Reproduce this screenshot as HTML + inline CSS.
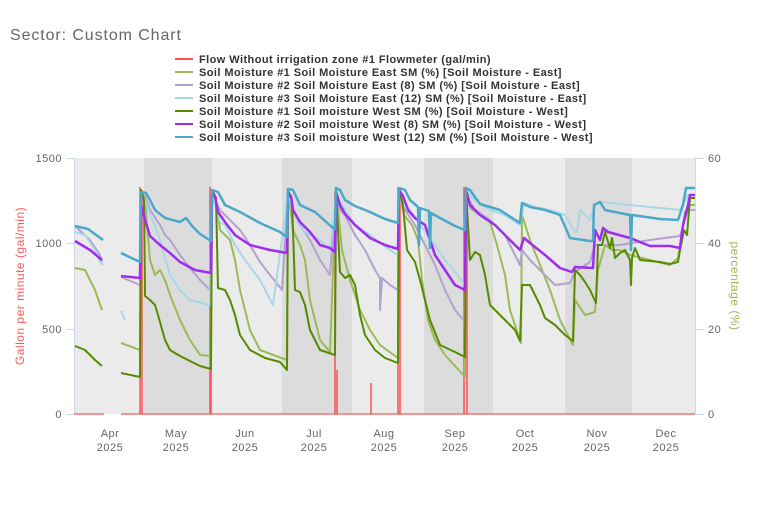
<!DOCTYPE html>
<html><head><meta charset="utf-8"><style>
body{margin:0;background:#fff;width:770px;height:505px;overflow:hidden}
svg{display:block;font-family:"Liberation Sans",sans-serif}
</style></head><body>
<svg width="770" height="505" viewBox="0 0 770 505" xmlns="http://www.w3.org/2000/svg">
<text x="10" y="40" font-size="16" fill="#666" letter-spacing="0.9">Sector:  Custom Chart</text>
<g font-size="11" font-weight="bold" fill="#333" letter-spacing="0.43">
<line x1="175" y1="59" x2="193" y2="59" stroke="#ff5050" stroke-width="2"/><text x="199" y="63">Flow Without irrigation zone #1 Flowmeter (gal/min)</text>
<line x1="175" y1="72" x2="193" y2="72" stroke="#9bbb59" stroke-width="2"/><text x="199" y="76">Soil Moisture #1 Soil Moisture East SM (%) [Soil Moisture - East]</text>
<line x1="175" y1="85" x2="193" y2="85" stroke="#b3a2cc" stroke-width="2"/><text x="199" y="89">Soil Moisture #2 Soil Moisture East (8) SM (%) [Soil Moisture - East]</text>
<line x1="175" y1="98" x2="193" y2="98" stroke="#a8d7e8" stroke-width="2"/><text x="199" y="102">Soil Moisture #3 Soil Moisture East (12) SM (%) [Soil Moisture - East]</text>
<line x1="175" y1="111" x2="193" y2="111" stroke="#578a00" stroke-width="2"/><text x="199" y="115">Soil Moisture #1 Soil moisture West SM (%) [Soil Moisture - West]</text>
<line x1="175" y1="124" x2="193" y2="124" stroke="#a02cf0" stroke-width="2"/><text x="199" y="128">Soil Moisture #2 Soil moisture West (8) SM (%) [Soil Moisture - West]</text>
<line x1="175" y1="137" x2="193" y2="137" stroke="#4aa8c8" stroke-width="2"/><text x="199" y="141">Soil Moisture #3 Soil moisture West (12) SM (%) [Soil Moisture - West]</text>
</g>
<rect x="74" y="158" width="622" height="256" fill="#ebebeb"/>
<g fill="#dcdcdc">
<rect x="144" y="158" width="68" height="256"/><rect x="282" y="158" width="70" height="256"/>
<rect x="424" y="158" width="69" height="256"/><rect x="565" y="158" width="67" height="256"/>
</g>
<g stroke="#ccd6eb" stroke-width="1">
<line x1="74.5" y1="158" x2="74.5" y2="414"/><line x1="695.5" y1="158" x2="695.5" y2="414"/>
<line x1="66" y1="158.5" x2="74" y2="158.5"/><line x1="66" y1="243.5" x2="74" y2="243.5"/><line x1="66" y1="329.5" x2="74" y2="329.5"/><line x1="66" y1="414.5" x2="74" y2="414.5"/>
<line x1="696" y1="158.5" x2="704" y2="158.5"/><line x1="696" y1="243.5" x2="704" y2="243.5"/><line x1="696" y1="329.5" x2="704" y2="329.5"/><line x1="696" y1="414.5" x2="704" y2="414.5"/>
</g>
<g font-size="11" fill="#666" text-anchor="end" letter-spacing="0.5">
<text x="62" y="162">1500</text><text x="62" y="247">1000</text><text x="62" y="333">500</text><text x="62" y="418">0</text>
</g>
<g font-size="11" fill="#666" letter-spacing="0.5">
<text x="708" y="162">60</text><text x="708" y="247">40</text><text x="708" y="333">20</text><text x="708" y="418">0</text>
</g>
<text transform="translate(24,286) rotate(-90)" font-size="12" fill="#ff5a5a" text-anchor="middle" letter-spacing="0.5">Gallon per minute (gal/min)</text>
<text transform="translate(731,286) rotate(90)" font-size="12" fill="#9bbb59" text-anchor="middle" letter-spacing="0.5">percentage (%)</text>
<g font-size="11" fill="#666" text-anchor="middle" letter-spacing="0.5">
<text x="110" y="437">Apr</text><text x="110" y="451">2025</text>
<text x="176" y="437">May</text><text x="176" y="451">2025</text>
<text x="245" y="437">Jun</text><text x="245" y="451">2025</text>
<text x="314" y="437">Jul</text><text x="314" y="451">2025</text>
<text x="384" y="437">Aug</text><text x="384" y="451">2025</text>
<text x="455" y="437">Sep</text><text x="455" y="451">2025</text>
<text x="525" y="437">Oct</text><text x="525" y="451">2025</text>
<text x="597" y="437">Nov</text><text x="597" y="451">2025</text>
<text x="666" y="437">Dec</text><text x="666" y="451">2025</text>
</g>
<g fill="none" stroke-linejoin="round">
<path stroke="#ff7070" stroke-width="1.5" d="M74,414H104M121,414H695"/>
<path stroke="#ff5050" stroke-width="1.5" d="M140,414V187M142,414V190M210,414V187M211,414V195M335,414V192M337,414V370M371,414V383M398,414V187M400,414V195M464,414V187M467,414V195"/>
<polyline stroke="#9bbb59" stroke-width="2" points="75,268 85,270 95,290 102,310"/>
<polyline stroke="#9bbb59" stroke-width="2" points="121,343 140,350 141,190 145,200 150,260 155,275 160,270 165,280 170,295 180,320 190,340 200,355 211,356 212,190 216,200 220,230 230,240 235,260 240,290 250,330 260,350 287,360 288,190 293,230 300,245 305,260 310,300 320,340 330,352 336,190 342,250 350,280 360,310 370,330 380,345 398,358 399,190 404,215 412,225 418,240 422,280 428,320 435,340 445,355 465,377 466,190 470,208 480,215 490,222 497,245 505,275 510,310 520,340 521,343 522,215 530,240 540,265 550,290 560,320 573,345 575,300 585,315 595,312 598,270 605,245 612,250 620,250 630,255 650,260 670,265 678,258 685,212 690,205 695,205"/>
<polyline stroke="#b3a2cc" stroke-width="2" points="75,226 90,240 100,255 102,262"/>
<polyline stroke="#b3a2cc" stroke-width="2" points="121,277 140,285 141,195 145,196 150,210 160,225 165,235 170,240 180,255 190,268 200,280 210,290 212,194 220,210 230,220 240,230 250,245 260,262 270,275 282,290 288,195 293,210 300,225 310,240 320,260 330,275 336,195 340,210 345,215 355,235 365,250 375,270 380,278 380,310 382,278 390,285 398,290 399,200 405,210 415,225 425,245 435,265 445,290 455,310 465,322 466,195 475,210 490,220 505,235 515,255 520,265 522,250 530,260 540,270 555,285 570,283 575,272 590,262 595,245 620,245 650,240 680,236 688,210 695,210"/>
<polyline stroke="#a8d7e8" stroke-width="2" points="75,232 85,235 95,250 100,262 103,265"/>
<polyline stroke="#a8d7e8" stroke-width="2" points="121,311 125,320"/>
<polyline stroke="#a8d7e8" stroke-width="2" points="140,310 141,195 145,200 150,215 155,225 160,240 170,275 180,290 190,300 210,305 212,195 218,215 220,222 225,225 235,245 245,260 260,280 273,305 288,195 295,215 305,232 320,240 330,250 336,195 345,210 355,225 370,235 390,250 398,255 399,195 410,210 420,225 430,238 445,260 455,272 465,285 466,192 475,200 490,210 505,215 520,225 524,203 535,207 550,210 565,215 575,232 577,232 580,210 590,220 595,205 600,202 640,206 680,210 688,195 695,195"/>
<polyline stroke="#578a00" stroke-width="2" points="75,346 85,350 95,360 102,366"/>
<polyline stroke="#578a00" stroke-width="2" points="121,373 140,377 141,190 144,200 145,296 150,300 155,305 158,315 165,340 170,350 180,356 200,366 211,369 212,190 216,198 218,288 225,290 230,300 235,315 240,335 250,350 265,358 280,362 287,370 288,190 292,200 295,290 300,292 305,305 310,330 320,350 335,355 336,190 340,272 345,278 350,275 355,285 360,315 365,335 375,350 385,358 398,363 399,190 403,205 407,250 415,262 420,280 425,300 430,320 440,345 455,352 465,357 466,190 470,260 475,252 480,255 485,275 490,305 495,310 505,320 515,330 520,341 522,285 530,285 535,295 540,305 545,318 555,325 565,335 573,341 575,270 580,275 585,282 590,290 596,303 598,245 602,245 605,232 610,248 612,238 615,258 620,253 625,250 630,260 631,285 632,258 635,248 640,260 660,262 670,264 678,262 680,250 684,230 687,235 690,198 695,198"/>
<polyline stroke="#a02cf0" stroke-width="2.5" points="75,241 90,250 102,260"/>
<polyline stroke="#a02cf0" stroke-width="2.5" points="121,276 140,278 141,207 142,207 145,220 150,236 160,245 170,253 180,262 195,270 211,273 212,194 215,196 218,212 225,222 235,235 250,245 270,250 287,253 288,194 291,196 293,210 300,222 310,232 320,245 330,248 335,252 336,192 340,205 345,214 355,225 370,238 385,245 398,249 399,190 403,196 408,210 415,218 425,225 430,240 435,255 445,270 455,285 465,290 466,190 470,205 480,215 495,225 510,240 520,250 524,238 530,243 545,255 560,268 572,272 575,267 593,268 595,230 600,240 603,228 608,232 630,238 650,246 670,246 680,248 683,225 688,205 690,195 695,195"/>
<polyline stroke="#4aa8c8" stroke-width="2.5" points="75,226 88,229 103,240"/>
<polyline stroke="#4aa8c8" stroke-width="2.5" points="121,253 140,262 141,192 146,193 150,200 155,210 165,218 180,222 186,218 192,226 200,234 211,241 212,190 218,192 225,205 240,212 260,223 280,232 287,237 288,189 293,190 300,205 315,212 333,228 335,229 336,188 340,190 345,200 355,206 370,212 385,219 398,223 399,188 405,190 410,200 418,207 419,245 420,208 429,211 430,248 431,213 440,218 455,226 465,230 466,188 470,190 480,204 500,210 520,223 522,203 530,207 545,210 560,215 570,238 590,241 593,241 594,205 600,202 605,210 630,215 631,250 632,215 660,219 678,220 683,205 686,188 695,188"/>
</g>
</svg>
</body></html>
